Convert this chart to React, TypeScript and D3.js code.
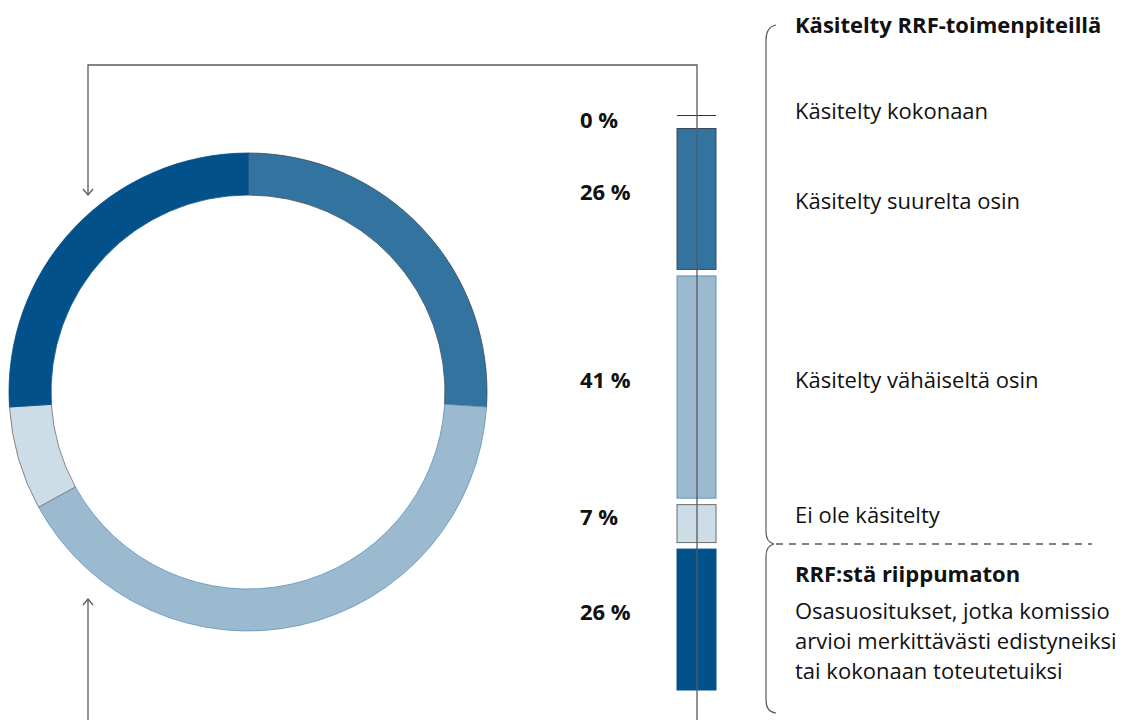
import React, { useEffect, useRef } from "react";
import * as d3 from "d3";

// Category shares (%), top to bottom in the bar
const categories = [
  "Käsitelty kokonaan",
  "Käsitelty suurelta osin",
  "Käsitelty vähäiseltä osin",
  "Ei ole käsitelty",
  "RRF:stä riippumaton",
];
const shares = [0, 26, 41, 7, 26];
const shareLabels = ["0 %", "26 %", "41 %", "7 %", "26 %"];
const fills = ["#33739f", "#33739f", "#9bbad0", "#cddde8", "#02518a"];
const strokes = ["#333", "#3a4a58", "#5e93bd", "#6b6b6b", "#02518a"];

const groupTitles = ["Käsitelty RRF-toimenpiteillä", "RRF:stä riippumaton"];
const noteLines = [
  "Osasuositukset, jotka komissio",
  "arvioi merkittävästi edistyneiksi",
  "tai kokonaan toteutetuiksi",
];

const FONT = "'Open Sans', 'Noto Sans', sans-serif";

export default function App() {
  const svgRef = useRef<SVGSVGElement>(null);

  useEffect(() => {
    const svg = d3.select(svgRef.current);
    svg.selectAll("*").remove();

    const height = 720;
    const lineColor = "#5a5a5a";
    const fontSize = 22;

    // Donut
    const cx = 248;
    const cy = 392;
    const outerR = 239;
    const innerR = 197;

    const pie = d3
      .pie<number>()
      .sort(null)
      .value((d) => d);
    const arc = d3
      .arc<d3.PieArcDatum<number>>()
      .innerRadius(innerR)
      .outerRadius(outerR);

    const donut = svg.append("g").attr("transform", `translate(${cx},${cy})`);
    donut
      .selectAll("path")
      .data(pie(shares).filter((d) => d.data > 0))
      .enter()
      .append("path")
      .attr("d", arc)
      .attr("fill", (d) => fills[d.index])
      .attr("stroke", (d) => strokes[d.index])
      .attr("stroke-width", 0.8);

    // Stacked bar
    const barX = 677;
    const barW = 39;
    const gap = 6.5;
    const top = 122;
    const yScale = d3.scaleLinear().domain([0, 100]).range([0, 542]);

    let cum = 0;
    const segs = shares.map((v, i) => {
      const y0 = top + yScale(cum) + gap * i;
      const h = yScale(v);
      cum += v;
      return { i, v, y0, h };
    });

    const barG = svg.append("g");
    segs.forEach((s) => {
      if (s.v === 0) {
        barG
          .append("line")
          .attr("x1", barX)
          .attr("x2", barX + barW)
          .attr("y1", s.y0 - gap)
          .attr("y2", s.y0 - gap)
          .attr("stroke", "#333")
          .attr("stroke-width", 1.2);
      } else {
        barG
          .append("rect")
          .attr("x", barX)
          .attr("y", s.y0)
          .attr("width", barW)
          .attr("height", s.h)
          .attr("fill", fills[s.i])
          .attr("stroke", strokes[s.i])
          .attr("stroke-width", 1);
      }
    });

    // Connector line through the bar and round to the donut
    const lineX = 697;
    const arrowX = 88;
    svg
      .append("path")
      .attr("d", `M${lineX},${height} L${lineX},65 L${arrowX},65 L${arrowX},194`)
      .attr("fill", "none")
      .attr("stroke", lineColor)
      .attr("stroke-width", 1.3);
    svg
      .append("path")
      .attr("d", `M${arrowX - 5},189 L${arrowX},195 L${arrowX + 5},189`)
      .attr("fill", "none")
      .attr("stroke", lineColor)
      .attr("stroke-width", 1.3);
    svg
      .append("path")
      .attr("d", `M${arrowX},${height} L${arrowX},600`)
      .attr("fill", "none")
      .attr("stroke", lineColor)
      .attr("stroke-width", 1.3);
    svg
      .append("path")
      .attr("d", `M${arrowX - 5},605 L${arrowX},599 L${arrowX + 5},605`)
      .attr("fill", "none")
      .attr("stroke", lineColor)
      .attr("stroke-width", 1.3);

    // Percentage labels
    svg
      .append("g")
      .selectAll("text")
      .data(segs)
      .enter()
      .append("text")
      .attr("x", 580)
      .attr("y", (d) => (d.v === 0 ? d.y0 : d.y0 + d.h / 2 - 5))
      .attr("dominant-baseline", "middle")
      .attr("font-family", FONT)
      .attr("font-weight", 700)
      .attr("font-size", fontSize)
      .attr("fill", "#111")
      .text((d) => shareLabels[d.i]);

    // Category labels
    const textX = 795;
    const labelShift = [-9, 4, -5, -7];
    svg
      .append("g")
      .selectAll("text")
      .data(segs.slice(0, 4))
      .enter()
      .append("text")
      .attr("x", textX)
      .attr("y", (d) => (d.v === 0 ? d.y0 : d.y0 + d.h / 2) + labelShift[d.i])
      .attr("dominant-baseline", "middle")
      .attr("font-family", FONT)
      .attr("font-size", fontSize)
      .attr("fill", "#111")
      .text((d) => categories[d.i]);

    // Group titles
    svg
      .append("text")
      .attr("x", textX)
      .attr("y", 27)
      .attr("dominant-baseline", "middle")
      .attr("font-family", FONT)
      .attr("font-weight", 700)
      .attr("font-size", fontSize)
      .attr("fill", "#111")
      .text(groupTitles[0]);
    svg
      .append("text")
      .attr("x", textX)
      .attr("y", 576)
      .attr("dominant-baseline", "middle")
      .attr("font-family", FONT)
      .attr("font-weight", 700)
      .attr("font-size", fontSize)
      .attr("fill", "#111")
      .text(groupTitles[1]);

    svg
      .append("g")
      .selectAll("text")
      .data(noteLines)
      .enter()
      .append("text")
      .attr("x", textX)
      .attr("y", (d, i) => 613 + i * 30)
      .attr("dominant-baseline", "middle")
      .attr("font-family", FONT)
      .attr("font-size", fontSize)
      .attr("fill", "#111")
      .text((d) => d);

    // Braces and divider
    const bx = 766;
    const midY = 544;
    svg
      .append("path")
      .attr(
        "d",
        `M${bx + 10},25 Q${bx},27 ${bx},40 L${bx},${midY - 12} Q${bx},${midY - 2} ${bx + 8},${midY}`
      )
      .attr("fill", "none")
      .attr("stroke", lineColor)
      .attr("stroke-width", 1.2);
    svg
      .append("path")
      .attr(
        "d",
        `M${bx + 8},${midY} Q${bx},${midY + 2} ${bx},${midY + 12} L${bx},700 Q${bx},712 ${bx + 10},713`
      )
      .attr("fill", "none")
      .attr("stroke", lineColor)
      .attr("stroke-width", 1.2);
    svg
      .append("line")
      .attr("x1", bx + 10)
      .attr("x2", 1092)
      .attr("y1", midY)
      .attr("y2", midY)
      .attr("stroke", lineColor)
      .attr("stroke-width", 1.3)
      .attr("stroke-dasharray", "7,6");
  }, []);

  return (
    <svg
      ref={svgRef}
      width={1127}
      height={720}
      style={{ position: "absolute", left: 0, top: 0, background: "#fff" }}
    />
  );
}
